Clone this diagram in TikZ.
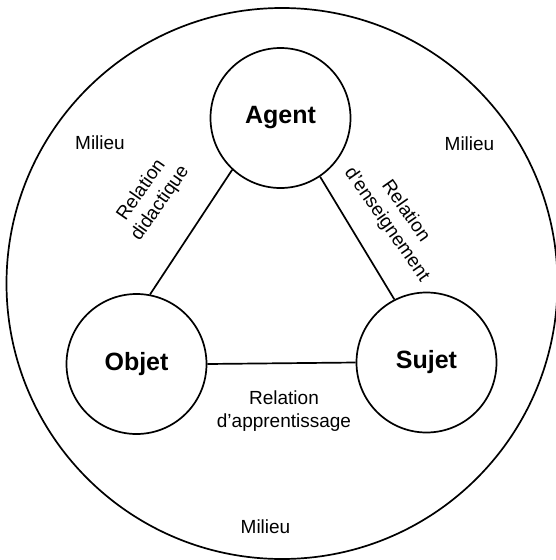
\documentclass[tikz,border=0pt]{standalone}
\usepackage{fontspec}
\setmainfont{Liberation Sans}
\begin{document}
\begin{tikzpicture}[x=1pt,y=-1pt,
  pole/.style={draw,circle,line width=1.7pt,minimum size=140pt,inner sep=0pt,
    font=\fontsize{25}{29}\selectfont\bfseries},
  lbl/.style={inner sep=0pt,align=center,font=\fontsize{19}{23}\selectfont},
  link/.style={line width=1.7pt}]
\useasboundingbox (0,0) rectangle (555,560);
\node[draw,circle,line width=1.7pt,minimum size=551pt,inner sep=0pt] (milieu) at (282,283.5) {};
\node[pole] (agent) at (280.5,118) {Agent};
\node[pole] (objet) at (136.5,364) {Objet};
\node[pole] (sujet) at (426.5,362.5) {Sujet};
\draw[link] (agent.227) -- (objet.79);
\draw[link] (agent.304) -- (sujet.117);
\draw[link] (objet.east) -- (sujet.west);
\node[lbl] (m1) at (100,142.5) {Milieu};
\node[lbl] (m2) at (469.5,144) {Milieu};
\node[lbl] (m3) at (265.5,527) {Milieu};
\node[lbl,rotate=55] (rd) at (151,197) {Relation\\didactique};
\node[lbl,rotate=-55] (re) at (396,218) {Relation\\d’enseignement};
\node[lbl] (ra) at (284,411) {Relation\\d’apprentissage};
\end{tikzpicture}
\end{document}
